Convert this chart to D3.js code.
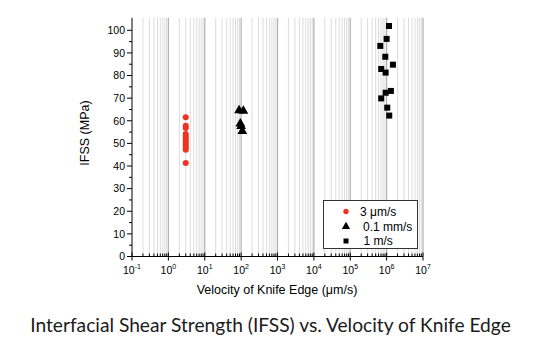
<!DOCTYPE html>
<html><head><meta charset="utf-8">
<script src="https://cdn.jsdelivr.net/npm/d3@7"></script>
<style>body{margin:0;background:#fff}svg{display:block}</style>
</head><body>
<script>
// Data
const series3um = [ // velocity (um/s), IFSS (MPa)
  [3,61.6],[3,57.8],[3,56.8],[3,54.2],[3,53.2],[3,52.2],[3,51.2],[3,50.2],[3,49.2],[3,48.2],[3,47.2],[3,41.3]
];
const series01mm = [
  [88,64.6],[115,64.4],[95,58.7],[100,57.6],[108,55.4]
];
const series1m = [
  [1.16e6,101.9],[1.0e6,96.2],[6.7e5,93.1],[9.2e5,88.3],[1.49e6,84.8],[7.1e5,82.9],
  [9.4e5,81.3],[1.31e6,73.2],[9.4e5,72.4],[7.1e5,69.9],[1.04e6,65.8],[1.18e6,62.3]
];
const yTicks = [0,10,20,30,40,50,60,70,80,90,100];
const xExponents = [-1,0,1,2,3,4,5,6,7];
const legendLabels = ["3 \u03bcm/s", "0.1 mm/s", "1 m/s"];
const xTitle = "Velocity of Knife Edge (\u03bcm/s)";
const yTitle = "IFSS (MPa)";
const caption = "Interfacial Shear Strength (IFSS) vs. Velocity of Knife Edge";

const W = 550, H = 360;
const svg = d3.select("body").append("svg").attr("width", W).attr("height", H);
const x = d3.scaleLog().domain([0.1, 1e7]).range([132, 423]);
const y = d3.scaleLinear().domain([0, 100]).range([256.5, 30.3]);
const yTop = y(105.5);

const minorVals = [];
for (let e = -1; e < 7; e++) for (let m = 2; m <= 9; m++) minorVals.push(m * Math.pow(10, e));
const majorVals = xExponents.map(e => Math.pow(10, e));

const grid = svg.append("g");
grid.selectAll("line.minor").data(minorVals).enter().append("line")
  .attr("x1", d => x(d)).attr("x2", d => x(d)).attr("y1", yTop).attr("y2", y(0))
  .attr("stroke", "#dcdcdc").attr("stroke-width", 1);
grid.selectAll("line.major").data(majorVals.slice(1)).enter().append("line")
  .attr("x1", d => x(d)).attr("x2", d => x(d)).attr("y1", yTop).attr("y2", y(0))
  .attr("stroke", "#b0b0b0").attr("stroke-width", 1.2);

// Y axis
const yAx = svg.append("g").attr("font-family", "Liberation Sans, Arial, sans-serif").attr("font-size", 10.5);
yAx.append("line").attr("x1", x(0.1)).attr("x2", x(0.1)).attr("y1", yTop).attr("y2", y(0)).attr("stroke", "#000");
yAx.selectAll("line.mj").data(yTicks).enter().append("line")
  .attr("x1", x(0.1) - 5).attr("x2", x(0.1)).attr("y1", d => y(d)).attr("y2", d => y(d)).attr("stroke", "#000");
yAx.selectAll("line.mn").data(yTicks.slice(0, -1).map(d => d + 5)).enter().append("line")
  .attr("x1", x(0.1) - 3).attr("x2", x(0.1)).attr("y1", d => y(d)).attr("y2", d => y(d)).attr("stroke", "#000");
yAx.selectAll("text").data(yTicks).enter().append("text")
  .attr("x", x(0.1) - 7).attr("y", d => y(d) + 3.8).attr("text-anchor", "end").text(d => d);

// X axis
const xAx = svg.append("g").attr("font-family", "Liberation Sans, Arial, sans-serif");
xAx.append("line").attr("x1", x(0.1)).attr("x2", x(1e7)).attr("y1", y(0)).attr("y2", y(0)).attr("stroke", "#000");
xAx.selectAll("line.mn").data(minorVals).enter().append("line")
  .attr("x1", d => x(d)).attr("x2", d => x(d)).attr("y1", y(0) - 3).attr("y2", y(0)).attr("stroke", "#000");
xAx.selectAll("line.mj").data(majorVals).enter().append("line")
  .attr("x1", d => x(d)).attr("x2", d => x(d)).attr("y1", y(0) - 4).attr("y2", y(0) + 4).attr("stroke", "#000");
const xl = xAx.selectAll("text").data(xExponents).enter().append("text")
  .attr("x", d => x(Math.pow(10, d))).attr("y", y(0) + 17).attr("text-anchor", "middle").attr("font-size", 10.5);
xl.append("tspan").text("10");
xl.append("tspan").attr("dy", -5).attr("font-size", 7).text(d => d);

// Titles
svg.append("text").attr("x", 277).attr("y", 294).attr("text-anchor", "middle")
  .attr("font-family", "Liberation Sans, Arial, sans-serif").attr("font-size", 12.5).text(xTitle);
svg.append("text").attr("transform", "translate(89,133) rotate(-90)").attr("text-anchor", "middle")
  .attr("font-family", "Liberation Sans, Arial, sans-serif").attr("font-size", 12.5).text(yTitle);
svg.append("text").attr("x", 270.5).attr("y", 331.5).attr("text-anchor", "middle")
  .attr("font-family", "Lato, sans-serif").attr("font-size", 19.2).attr("fill", "#1a1a1a").text(caption);

// Points
const pts = svg.append("g");
pts.selectAll("circle").data(series3um).enter().append("circle")
  .attr("cx", d => x(d[0])).attr("cy", d => y(d[1])).attr("r", 3).attr("fill", "#ee3322");
const tri = d3.symbol().type(d3.symbolTriangle).size(42);
pts.selectAll("path.tri").data(series01mm).enter().append("path")
  .attr("d", tri).attr("transform", d => `translate(${x(d[0])},${y(d[1])})`).attr("fill", "#000");
pts.selectAll("rect").data(series1m).enter().append("rect")
  .attr("x", d => x(d[0]) - 3).attr("y", d => y(d[1]) - 3).attr("width", 6).attr("height", 6).attr("fill", "#000");

// Legend
const lg = svg.append("g").attr("font-family", "Liberation Sans, Arial, sans-serif").attr("font-size", 12);
lg.append("rect").attr("x", 323.5).attr("y", 200.5).attr("width", 94).attr("height", 48)
  .attr("fill", "#fff").attr("stroke", "#333").attr("stroke-width", 1);
const ly = [211.5, 226.5, 241];
lg.append("circle").attr("cx", 346).attr("cy", ly[0]).attr("r", 2.7).attr("fill", "#ee3322");
lg.append("path").attr("d", d3.symbol().type(d3.symbolTriangle).size(30)).attr("transform", `translate(346,${ly[1]})`).attr("fill", "#000");
lg.append("rect").attr("x", 343.5).attr("y", ly[2] - 2.5).attr("width", 5).attr("height", 5).attr("fill", "#000");
lg.append("text").attr("x", 360).attr("y", ly[0] + 4.3).text(legendLabels[0]);
lg.append("text").attr("x", 363).attr("y", ly[1] + 4.3).text(legendLabels[1]);
lg.append("text").attr("x", 363.5).attr("y", ly[2] + 4.3).text(legendLabels[2]);
</script>
</body></html>
